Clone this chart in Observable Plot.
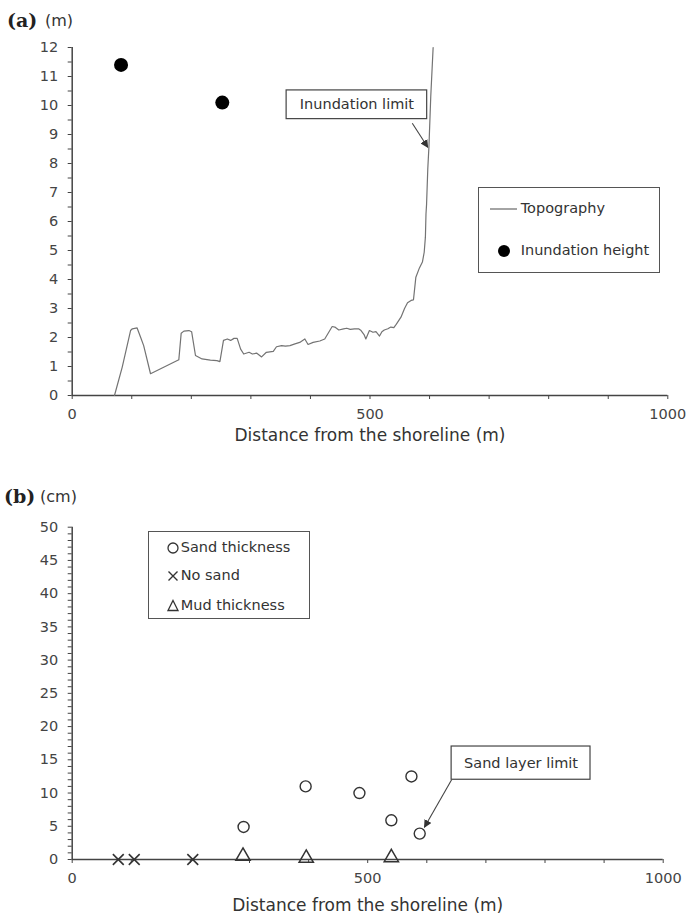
<!DOCTYPE html>
<html>
<head>
<meta charset="utf-8">
<script src="https://cdn.jsdelivr.net/npm/d3@7"></script>
<script src="https://cdn.jsdelivr.net/npm/@observablehq/plot@0.6"></script>
<style>
  body { margin: 0; background: #fff; }
  #wrap { position: relative; width: 688px; height: 923px; overflow: hidden; font-family: "DejaVu Sans", sans-serif; color: #333; }
  .abs { position: absolute; }
  .panel { font-family: "DejaVu Serif", serif; font-weight: bold; font-size: 19px; color: #222; }
  .unit { font-family: "DejaVu Sans", sans-serif; font-size: 16px; color: #333; }
  .legend { position: absolute; border: 1px solid #555; background: #fff; box-sizing: border-box; }
  .legend .item { position: absolute; font-size: 14.5px; white-space: nowrap; line-height: 1; }
</style>
</head>
<body>
<div id="wrap">
  <div class="abs panel" style="left:7px; top:9px;">(a)</div>
  <div class="abs unit" style="left:45px; top:11px;">(m)</div>
  <div class="abs panel" style="left:4px; top:485px;">(b)</div>
  <div class="abs unit" style="left:40px; top:487px;">(cm)</div>
</div>
<script>
// ---------- Panel (a) data ----------
const topoDistance = [71, 84, 98, 101, 109, 115, 120, 131.5, 179, 183, 187.5, 196, 200.5, 207, 218, 232, 243, 248, 254, 260.5, 266, 271.7, 277, 282.8, 288, 297, 302.5, 310, 318, 326, 337.6, 343, 351.6, 358, 365.6, 374, 382, 390.6, 396, 404.5, 415.7, 424, 436.5, 441, 447.6, 455.6, 461, 466.8, 474, 480.8, 485, 490, 493, 499, 505, 510, 516, 520, 524, 530, 535, 540, 544, 552, 558, 563, 569, 573, 577, 583, 588, 591, 593, 594, 595, 597, 599, 602, 606];
const topoElevation = [0, 0.98, 2.24, 2.3, 2.33, 2.0, 1.72, 0.75, 1.23, 2.15, 2.22, 2.24, 2.2, 1.38, 1.26, 1.22, 1.2, 1.17, 1.9, 1.95, 1.9, 1.97, 1.97, 1.6, 1.43, 1.49, 1.43, 1.46, 1.33, 1.49, 1.52, 1.68, 1.72, 1.7, 1.72, 1.78, 1.83, 1.95, 1.76, 1.83, 1.88, 1.95, 2.38, 2.36, 2.26, 2.3, 2.32, 2.28, 2.3, 2.3, 2.24, 2.1, 1.95, 2.24, 2.18, 2.2, 2.05, 2.2, 2.26, 2.3, 2.36, 2.34, 2.45, 2.7, 3.0, 3.2, 3.28, 3.3, 4.08, 4.4, 4.6, 4.94, 5.46, 6.26, 6.6, 7.8, 8.6, 10.3, 12.0];
const inundationDistance = [82, 252];
const inundationHeight = [11.4, 10.1];

// ---------- Panel (b) data ----------
const sandDistance = [290, 395, 486, 540, 574, 588];
const sandThickness = [4.9, 11.0, 10.0, 5.9, 12.5, 3.9];
const noSandDistance = [78, 105, 204];
const noSandThickness = [0, 0, 0];
const mudDistance = [289, 396, 540];
const mudThickness = [0.5, 0.2, 0.3];

// ---------- Tick labels / texts ----------
const xTicks = d3.range(0, 1001, 100);
const xLabelled = [0, 500, 1000];
const yTicksA = d3.range(0, 12.001, 0.5);
const yTicksB = d3.range(0, 50.001, 1);
const xTitle = "Distance from the shoreline (m)";

// ---------- Annotations (data space) ----------
const inundationCallout = [{x1: 360, x2: 596, y1: 9.53, y2: 10.52, label: "Inundation limit", ax1: 571, ay1: 9.39, ax2: 597, ay2: 8.56}];
const sandCallout = [{x1: 642, x2: 877, y1: 12.0, y2: 17.0, label: "Sand layer limit", ax1: 642, ay1: 12.0, ax2: 596, ay2: 4.86}];

const topo = topoDistance.map((d, i) => ({x: d, y: topoElevation[i]}));
const inund = inundationDistance.map((d, i) => ({x: d, y: inundationHeight[i]}));
const sand = sandDistance.map((d, i) => ({x: d, y: sandThickness[i]}));
const nosand = noSandDistance.map((d, i) => ({x: d, y: noSandThickness[i]}));
const mud = mudDistance.map((d, i) => ({x: d, y: mudThickness[i]}));

const axisStyle = {fontFamily: "DejaVu Sans, sans-serif", fontSize: "14.5px", color: "#444", background: "transparent"};
const xFmt = d => xLabelled.includes(d) ? String(d) : "";

const plotA = Plot.plot({
  width: 688, height: 460,
  marginLeft: 71.7, marginRight: 20.7, marginTop: 47, marginBottom: 65,
  style: axisStyle,
  x: {domain: [0, 1000], ticks: xTicks, tickFormat: xFmt, tickSize: 4, tickPadding: 9, label: null},
  y: {domain: [0, 12], ticks: yTicksA, tickFormat: d => Number.isInteger(d) ? String(d) : "", tickSize: 4, tickPadding: 10, label: null},
  marks: [
    Plot.ruleY([0], {stroke: "#444", strokeWidth: 1.5}),
    Plot.ruleX([0], {stroke: "#444", strokeWidth: 1.5}),
    Plot.line(topo, {x: "x", y: "y", stroke: "#737373", strokeWidth: 1.2}),
    Plot.dot(inund, {x: "x", y: "y", r: 7, fill: "#000", stroke: "none"}),
    Plot.rect(inundationCallout, {x1: "x1", x2: "x2", y1: "y1", y2: "y2", fill: "#fff", stroke: "#444", strokeWidth: 1.2}),
    Plot.text(inundationCallout, {x: d => (d.x1 + d.x2) / 2, y: d => (d.y1 + d.y2) / 2, text: "label", fontSize: 14.5, fill: "#333"}),
    Plot.link(inundationCallout, {x1: "ax1", y1: "ay1", x2: "ax2", y2: "ay2", stroke: "#444", strokeWidth: 1.1}),
    Plot.text([xTitle], {frameAnchor: "bottom", dy: 45, fontSize: 17, fill: "#333"})
  ]
});
plotA.style.position = "absolute";
plotA.style.left = "0px";
plotA.style.top = "0px";

const plotB = Plot.plot({
  width: 688, height: 463,
  marginLeft: 71.7, marginRight: 25.3, marginTop: 66.7, marginBottom: 64,
  style: axisStyle,
  x: {domain: [0, 1000], ticks: xTicks, tickFormat: xFmt, tickSize: 4, tickPadding: 9, label: null},
  y: {domain: [0, 50], ticks: yTicksB, tickFormat: d => d % 5 === 0 ? String(d) : "", tickSize: 4, tickPadding: 10, label: null},
  marks: [
    Plot.ruleY([0], {stroke: "#444", strokeWidth: 1.5}),
    Plot.ruleX([0], {stroke: "#444", strokeWidth: 1.5}),
    Plot.dot(sand, {x: "x", y: "y", r: 5.5, symbol: "circle", fill: "none", stroke: "#333", strokeWidth: 1.4}),
    Plot.dot(nosand, {x: "x", y: "y", r: 5, symbol: "times", stroke: "#333", strokeWidth: 1.6}),
    Plot.dot(mud, {x: "x", y: "y", r: 5.3, symbol: "triangle", fill: "none", stroke: "#333", strokeWidth: 1.5}),
    Plot.rect(sandCallout, {x1: "x1", x2: "x2", y1: "y1", y2: "y2", fill: "#fff", stroke: "#444", strokeWidth: 1.2}),
    Plot.text(sandCallout, {x: d => (d.x1 + d.x2) / 2, y: d => (d.y1 + d.y2) / 2, text: "label", fontSize: 14.5, fill: "#333"}),
    Plot.link(sandCallout, {x1: "ax1", y1: "ay1", x2: "ax2", y2: "ay2", stroke: "#444", strokeWidth: 1.1}),
    Plot.text([xTitle], {frameAnchor: "bottom", dy: 51, fontSize: 17, fill: "#333"})
  ]
});
plotB.style.position = "absolute";
plotB.style.left = "0px";
plotB.style.top = "460px";

// filled arrowheads on the callout links
for (const [svg, id] of [[plotA, "ahA"], [plotB, "ahB"]]) {
  const s = d3.select(svg);
  s.append("defs").append("marker")
    .attr("id", id).attr("viewBox", "0 0 10 10").attr("refX", 9).attr("refY", 5)
    .attr("markerWidth", 8).attr("markerHeight", 8).attr("markerUnits", "userSpaceOnUse")
    .attr("orient", "auto")
    .append("path").attr("d", "M0,0L10,5L0,10Z").attr("fill", "#333");
  s.selectAll("g[aria-label='link'] path, g[aria-label='link'] line").attr("marker-end", `url(#${id})`);
}

const wrap = document.getElementById("wrap");
wrap.insertBefore(plotA, wrap.firstChild);
wrap.insertBefore(plotB, wrap.firstChild);

// ---------- Legends ----------
function legend(left, top, w, h, items) {
  const box = document.createElement("div");
  box.className = "legend";
  Object.assign(box.style, {left: left + "px", top: top + "px", width: w + "px", height: h + "px"});
  for (const it of items) {
    const s = document.createElementNS("http://www.w3.org/2000/svg", "svg");
    s.setAttribute("width", it.sw); s.setAttribute("height", 16);
    Object.assign(s.style, {position: "absolute", left: it.sx + "px", top: (it.cy - 8) + "px", overflow: "visible"});
    s.innerHTML = it.svg;
    box.appendChild(s);
    const t = document.createElement("div");
    t.className = "item";
    t.textContent = it.text;
    Object.assign(t.style, {left: it.tx + "px", top: (it.cy - 8) + "px"});
    box.appendChild(t);
  }
  wrap.appendChild(box);
}
legend(477.7, 186.7, 182.3, 86, [
  {text: "Topography", sx: 11, sw: 28, cy: 21.5, tx: 42, svg: '<line x1="0" y1="8" x2="27" y2="8" stroke="#737373" stroke-width="1.3"/>'},
  {text: "Inundation height", sx: 18, sw: 14, cy: 63.5, tx: 42, svg: '<circle cx="7" cy="8" r="6" fill="#000"/>'}
]);
legend(147.7, 530.7, 162.3, 88.6, [
  {text: "Sand thickness", sx: 18, sw: 12, cy: 16, tx: 32, svg: '<circle cx="6" cy="8" r="5" fill="none" stroke="#333" stroke-width="1.3"/>'},
  {text: "No sand", sx: 18, sw: 12, cy: 44.5, tx: 32, svg: '<path d="M1.5,3.5L10.5,12.5M10.5,3.5L1.5,12.5" stroke="#333" stroke-width="1.4"/>'},
  {text: "Mud thickness", sx: 18, sw: 12, cy: 74, tx: 32, svg: '<path d="M6,2.5L11,12.5L1,12.5Z" fill="none" stroke="#333" stroke-width="1.3"/>'}
]);
</script>
</body>
</html>
